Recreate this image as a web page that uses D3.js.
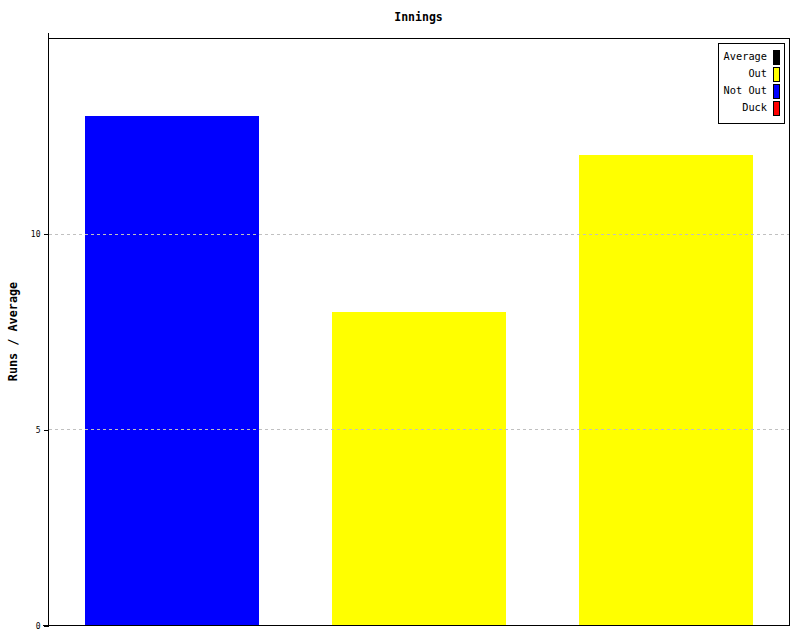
<!DOCTYPE html>
<html>
<head>
<meta charset="utf-8">
<script src="https://cdn.jsdelivr.net/npm/d3@7"></script>
<style>
  html, body { margin: 0; padding: 0; background: #fff; }
  text { font-family: "DejaVu Sans Mono", "Liberation Mono", monospace; }
</style>
</head>
<body>
<svg id="chart" width="800" height="640"></svg>
<script>
const innings = ["1", "2", "3"];
const runs = [13, 8, 12];
const status = ["Not Out", "Out", "Out"];
const legendLabels = ["Average", "Out", "Not Out", "Duck"];
const legendColors = ["#000000", "#ffff00", "#0000ff", "#ff0000"];
const yTicks = [0, 5, 10];
const gridTicks = [5, 10];

const svg = d3.select("#chart");
const W = 800, H = 640;
const m = { left: 48, right: 11, top: 38, bottom: 15 };
const x0 = m.left, x1 = W - m.right, y0 = H - m.bottom, y1 = m.top;

svg.append("rect").attr("width", W).attr("height", H).attr("fill", "#fff");

const color = d3.scaleOrdinal().domain(legendLabels).range(legendColors);
const x = d3.scaleBand().domain(innings).range([x0, x1 + 1]).paddingInner(0.295).paddingOuter(0.15);
const y = d3.scaleLinear().domain([0, 15]).range([y0, y1]);

// bars
svg.append("g").selectAll("rect").data(innings).join("rect")
  .attr("x", d => Math.round(x(d)))
  .attr("y", (d, i) => Math.round(y(runs[i])))
  .attr("width", Math.round(x.bandwidth()))
  .attr("height", (d, i) => Math.round(y(0) - y(runs[i])))
  .attr("fill", (d, i) => color(status[i]))
  .attr("shape-rendering", "crispEdges");

// grid (over bars)
svg.append("g").selectAll("line").data(gridTicks).join("line")
  .attr("x1", x0 + 1).attr("x2", x1)
  .attr("y1", d => Math.round(y(d)) + 0.5).attr("y2", d => Math.round(y(d)) + 0.5)
  .attr("stroke", "#c0c0c0").attr("stroke-dasharray", "3,3")
  .attr("shape-rendering", "crispEdges");

// frame
const frame = svg.append("g").attr("shape-rendering", "crispEdges").attr("stroke", "#000").attr("fill", "none");
frame.append("line").attr("x1", x0 + 0.5).attr("x2", x0 + 0.5).attr("y1", y1 - 5).attr("y2", y0 + 1);
frame.append("line").attr("x1", x0).attr("x2", x1 + 1).attr("y1", y1 + 0.5).attr("y2", y1 + 0.5);
frame.append("line").attr("x1", x1 + 0.5).attr("x2", x1 + 0.5).attr("y1", y1).attr("y2", y0 + 1);
frame.append("line").attr("x1", x0 - 5).attr("x2", x1 + 1).attr("y1", y0 + 0.5).attr("y2", y0 + 0.5);

// y axis
const yAxis = d3.axisLeft(y).tickValues(yTicks).tickSize(5).tickPadding(3).tickFormat(d3.format("d"));
const ga = svg.append("g").attr("transform", `translate(${x0 + 0.5},0.5)`).call(yAxis);
ga.select(".domain").remove();
ga.selectAll("line").attr("stroke", "#000").attr("shape-rendering", "crispEdges");
ga.selectAll("text").attr("font-family", "DejaVu Sans Mono").attr("font-size", 8).attr("fill", "#000");

// title
svg.append("text").attr("x", (x0 + x1) / 2).attr("y", 21)
  .attr("text-anchor", "middle").attr("font-size", 11.5).attr("font-weight", "bold")
  .text("Innings");

// y label
svg.append("text")
  .attr("transform", `translate(17,${(y0 + y1) / 2}) rotate(-90)`)
  .attr("text-anchor", "middle").attr("font-size", 11.8).attr("font-weight", "bold")
  .text("Runs / Average");

// legend
const lg = svg.append("g");
lg.append("rect").attr("x", 718.5).attr("y", 43.5).attr("width", 66).attr("height", 80)
  .attr("fill", "#fff").attr("stroke", "#000").attr("shape-rendering", "crispEdges");
const rows = lg.selectAll("g.row").data(legendLabels).join("g").attr("class", "row")
  .attr("transform", (d, i) => `translate(0,${50 + i * 17})`);
rows.append("rect").attr("x", 773.5).attr("y", 0.5).attr("width", 6).attr("height", 14)
  .attr("fill", d => color(d)).attr("stroke", "#000").attr("shape-rendering", "crispEdges");
rows.append("text").attr("x", 767).attr("y", 10).attr("text-anchor", "end")
  .attr("font-size", 10.3).text(d => d);
</script>
</body>
</html>
